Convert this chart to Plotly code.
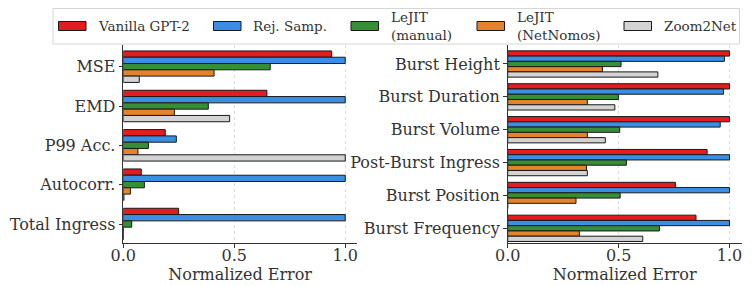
import plotly.graph_objects as go

# ---------------- data ----------------
left_categories = ["MSE", "EMD", "P99 Acc.", "Autocorr.", "Total Ingress"]
right_categories = ["Burst Height", "Burst Duration", "Burst Volume",
                    "Post-Burst Ingress", "Burst Position", "Burst Frequency"]

series_names = ["Vanilla GPT-2", "Rej. Samp.", "LeJIT<br>(manual)",
                "LeJIT<br>(NetNomos)", "Zoom2Net"]

vanilla_left = [0.939, 0.647, 0.189, 0.081, 0.249]
rej_left = [1.0, 1.0, 0.239, 1.0, 1.0]
lejit_manual_left = [0.662, 0.383, 0.113, 0.095, 0.038]
lejit_netnomos_left = [0.409, 0.230, 0.066, 0.032, 0.0]
zoom2net_left = [0.072, 0.479, 1.0, 0.003, 0.0]

vanilla_right = [1.0, 1.0, 1.0, 0.899, 0.756, 0.849]
rej_right = [0.977, 0.973, 0.958, 1.0, 1.0, 1.0]
lejit_manual_right = [0.511, 0.499, 0.505, 0.535, 0.507, 0.684]
lejit_netnomos_right = [0.427, 0.359, 0.359, 0.355, 0.308, 0.323]
zoom2net_right = [0.677, 0.483, 0.440, 0.359, 0.0, 0.609]

x_ticks = [0.0, 0.5, 1.0]
x_title = "Normalized Error"

# ---------------- style ----------------
colors = ["#e31d1f", "#3a8ee3", "#368f36", "#e5832a", "#d3d3d3"]
FONT = "DejaVu Serif"
TXT = "#333333"
OFF = 8  # default page body margin
W, H = 752 - OFF, 286 - OFF

def px(x):
    return (x - OFF) / W

def py(y):
    return 1 - (y - OFF) / H

left_series = [vanilla_left, rej_left, lejit_manual_left, lejit_netnomos_left, zoom2net_left]
right_series = [vanilla_right, rej_right, lejit_manual_right, lejit_netnomos_right, zoom2net_right]

fig = go.Figure()
for name, col, vals in zip(series_names, colors, left_series):
    fig.add_trace(go.Bar(y=left_categories, x=vals, orientation="h", name=name,
                         marker=dict(color=col, line=dict(color="#1a1a1a", width=1)),
                         xaxis="x", yaxis="y", showlegend=False))
for name, col, vals in zip(series_names, colors, right_series):
    fig.add_trace(go.Bar(y=right_categories, x=vals, orientation="h", name=name,
                         marker=dict(color=col, line=dict(color="#1a1a1a", width=1)),
                         xaxis="x2", yaxis="y2", showlegend=False))

y_bot, y_top = 243, 45
xcommon = dict(tickvals=x_ticks, tickformat=".1f", automargin=False,
               showline=True, linecolor=TXT, linewidth=1.3,
               ticks="outside", ticklen=3.5, tickcolor=TXT,
               ticklabelstandoff=-6,
               showgrid=True, gridcolor="#dcdcdc", griddash="dot", gridwidth=1,
               zeroline=False,
               tickfont=dict(family=FONT, size=16, color=TXT),
               title=dict(text=x_title, font=dict(family=FONT, size=16, color=TXT), standoff=0))
ycommon = dict(showline=True, linecolor=TXT, linewidth=1.3, automargin=False,
               ticks="outside", ticklen=3.5, tickcolor=TXT,
               showgrid=False, zeroline=False,
               tickfont=dict(family=FONT, size=16, color=TXT))

fig.update_layout(
    width=W, height=H,
    margin=dict(l=0, r=0, t=0, b=0, autoexpand=False),
    paper_bgcolor="white", plot_bgcolor="white",
    barmode="group", bargap=0.2, bargroupgap=0,
    font=dict(family=FONT, color=TXT),
    xaxis=dict(domain=[px(123.3), px(357)], anchor="y", range=[0, 1.053], **xcommon),
    yaxis=dict(domain=[py(y_bot), py(y_top)], anchor="x",
               range=[4.483, -0.551], **ycommon),
    xaxis2=dict(domain=[px(507.7), px(741.7)], anchor="y2", range=[0, 1.055], **xcommon),
    yaxis2=dict(domain=[py(y_bot), py(y_top)], anchor="x2",
                range=[5.447, -0.578], **ycommon),
)

# ---------------- manual legend ----------------
shapes = [dict(type="rect", xref="paper", yref="paper",
               x0=px(53), x1=px(739.5), y0=py(44), y1=py(8.5),
               line=dict(color="#d6d6d6", width=1), fillcolor="white", layer="above")]
annotations = []
patch_x = [58.5, 213.5, 351, 477, 624]
patch_w = 27.5
for name, col, x0 in zip(series_names, colors, patch_x):
    shapes.append(dict(type="rect", xref="paper", yref="paper",
                       x0=px(x0), x1=px(x0 + patch_w), y0=py(30.5), y1=py(21.5),
                       line=dict(color="#1a1a1a", width=1), fillcolor=col, layer="above"))
    annotations.append(dict(xref="paper", yref="paper", x=px(x0 + patch_w + 10), y=py(25.5),
                            text=name, showarrow=False, xanchor="left", yanchor="middle",
                            align="left",
                            font=dict(family=FONT, size=13.5, color=TXT)))
fig.update_layout(shapes=shapes, annotations=annotations)

fig.write_html("out.html")
